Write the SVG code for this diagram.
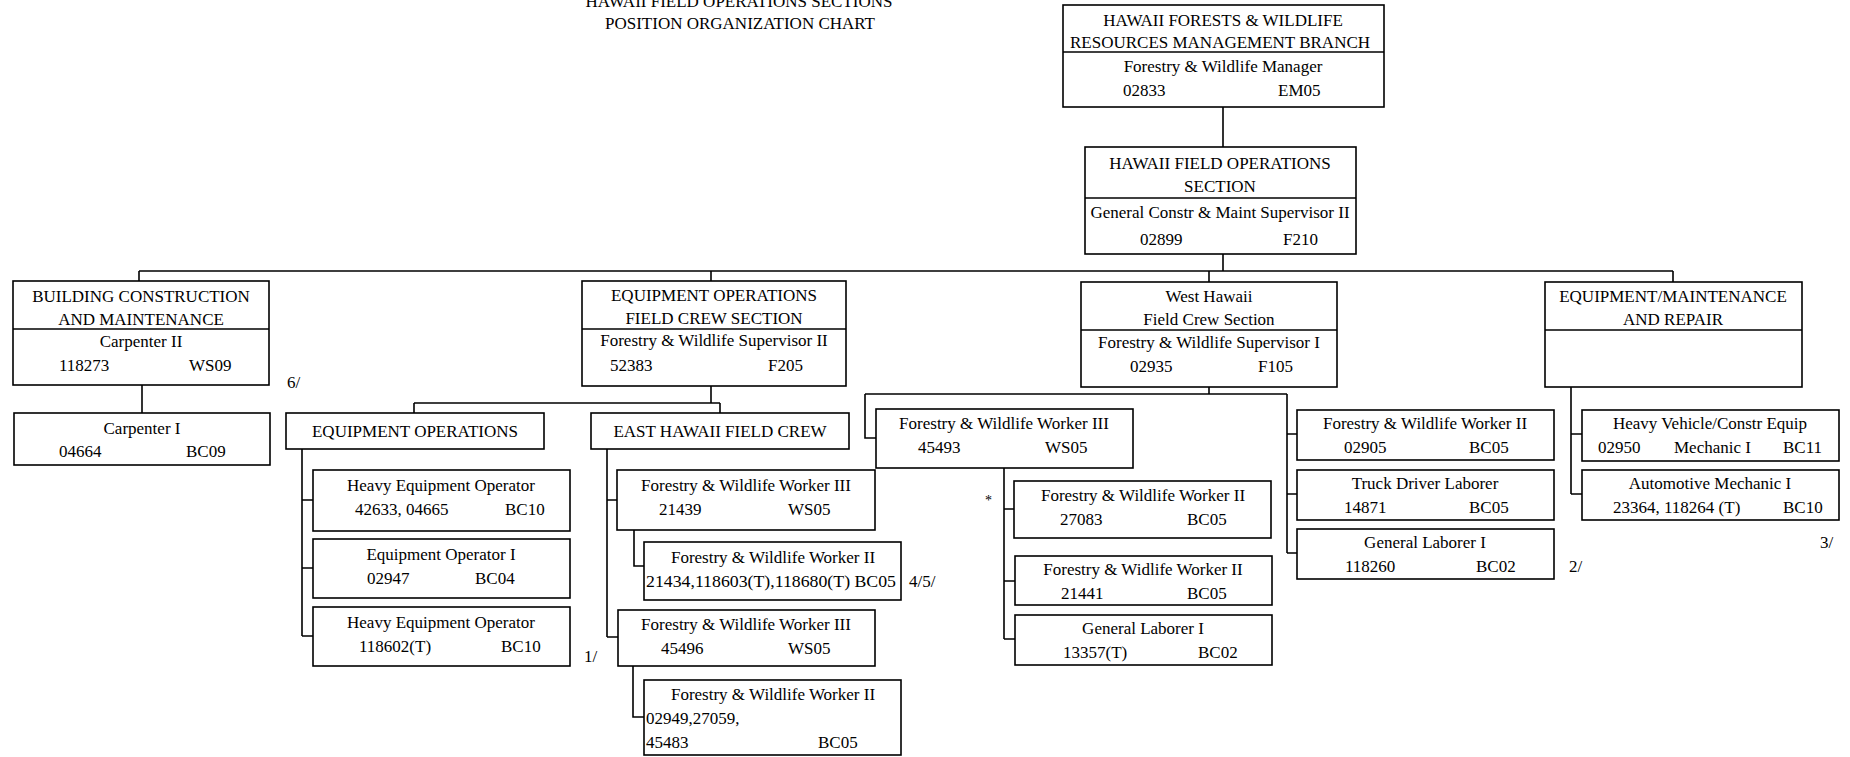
<svg xmlns="http://www.w3.org/2000/svg" width="1850" height="757" viewBox="0 0 1850 757">
<style>
.bx{fill:#fff;stroke:#000;stroke-width:1.6}
.ln{fill:none;stroke:#000;stroke-width:1.6}
text{font-family:"Liberation Serif","Times New Roman",serif;font-size:17px;fill:#000}
.c{text-anchor:middle}
</style>
<rect width="1850" height="757" fill="#fff"/>
<g id="title">
<text class="c" x="739" y="7">HAWAII FIELD OPERATIONS SECTIONS</text>
<text class="c" x="740" y="29">POSITION ORGANIZATION CHART</text>
</g>
<g id="connectors">
<path class="ln" d="M1223,107V147 M1223,254V271 M139,271H1673 M139,271V281 M711,271V281 M1209,271V282 M1673,271V282"/>
<path class="ln" d="M142,385V413"/>
<path class="ln" d="M711,386V403 M414,403H720 M414,403V413 M720,403V413"/>
<path class="ln" d="M302,449V636 M302,500H313 M302,568H313 M302,636H313"/>
<path class="ln" d="M607,449V637 M607,500H617 M607,637H618 M634,530V566H644 M633,666V717H644"/>
<path class="ln" d="M1209,387V394 M865,394H1287 M865,394V438H876 M1287,394V553 M1287,434H1297 M1287,494H1297 M1287,553H1297"/>
<path class="ln" d="M1004,468V639 M1004,509H1014 M1004,581H1015 M1004,639H1015"/>
<path class="ln" d="M1571,387V494 M1571,434H1582 M1571,494H1582"/>
</g>
<g id="n-branch">
<rect class="bx" x="1063" y="5" width="321" height="102"/>
<line class="ln" x1="1063" y1="52" x2="1384" y2="52"/>
<text class="c" x="1223" y="26">HAWAII FORESTS &amp; WILDLIFE</text>
<text class="c" x="1220" y="48">RESOURCES MANAGEMENT BRANCH</text>
<text class="c" x="1223" y="72">Forestry &amp; Wildlife Manager</text>
<text x="1123" y="96">02833</text><text x="1278" y="96">EM05</text>
</g>
<g id="n-section">
<rect class="bx" x="1085" y="147" width="271" height="107"/>
<line class="ln" x1="1085" y1="198" x2="1356" y2="198"/>
<text class="c" x="1220" y="169">HAWAII FIELD OPERATIONS</text>
<text class="c" x="1220" y="192">SECTION</text>
<text class="c" x="1220" y="218">General Constr &amp; Maint Supervisor II</text>
<text x="1140" y="245">02899</text><text x="1283" y="245">F210</text>
</g>
<g id="n-building">
<rect class="bx" x="13" y="281" width="256" height="104"/>
<line class="ln" x1="13" y1="329" x2="269" y2="329"/>
<text class="c" x="141" y="302">BUILDING CONSTRUCTION</text>
<text class="c" x="141" y="325">AND MAINTENANCE</text>
<text class="c" x="141" y="347">Carpenter II</text>
<text x="59" y="371">118273</text><text x="189" y="371">WS09</text>
</g>
<g id="n-carpenter1">
<rect class="bx" x="14" y="413" width="256" height="52"/>
<text class="c" x="142" y="434">Carpenter I</text>
<text x="59" y="457">04664</text><text x="186" y="457">BC09</text>
</g>
<text x="287" y="388">6/</text>
<g id="n-eqfield">
<rect class="bx" x="582" y="281" width="264" height="105"/>
<line class="ln" x1="582" y1="329" x2="846" y2="329"/>
<text class="c" x="714" y="301">EQUIPMENT OPERATIONS</text>
<text class="c" x="714" y="324">FIELD CREW SECTION</text>
<text class="c" x="714" y="346">Forestry &amp; Wildlife Supervisor II</text>
<text x="610" y="371">52383</text><text x="768" y="371">F205</text>
</g>
<g id="n-eqops">
<rect class="bx" x="286" y="413" width="258" height="36"/>
<text class="c" x="415" y="437">EQUIPMENT OPERATIONS</text>
</g>
<g id="n-easthawaii">
<rect class="bx" x="591" y="413" width="258" height="36"/>
<text class="c" x="720" y="437">EAST HAWAII FIELD CREW</text>
</g>
<g id="n-heo1">
<rect class="bx" x="313" y="470" width="257" height="61"/>
<text class="c" x="441" y="491">Heavy Equipment Operator</text>
<text x="355" y="515">42633, 04665</text><text x="505" y="515">BC10</text>
</g>
<g id="n-eo1">
<rect class="bx" x="313" y="539" width="257" height="59"/>
<text class="c" x="441" y="560">Equipment Operator I</text>
<text x="367" y="584">02947</text><text x="475" y="584">BC04</text>
</g>
<g id="n-heo2">
<rect class="bx" x="313" y="607" width="257" height="59"/>
<text class="c" x="441" y="628">Heavy Equipment Operator</text>
<text x="359" y="652">118602(T)</text><text x="501" y="652">BC10</text>
</g>
<text x="584" y="662">1/</text>
<g id="n-e21439">
<rect class="bx" x="617" y="470" width="258" height="60"/>
<text class="c" x="746" y="491">Forestry &amp; Wildlife Worker III</text>
<text x="659" y="515">21439</text><text x="788" y="515">WS05</text>
</g>
<g id="n-e21434">
<rect class="bx" x="644" y="542" width="257" height="58"/>
<text class="c" x="773" y="563">Forestry &amp; Wildlife Worker II</text>
<text x="646" y="587" textLength="250" lengthAdjust="spacingAndGlyphs">21434,118603(T),118680(T) BC05</text>
</g>
<text x="909" y="587">4/5/</text>
<g id="n-e45496">
<rect class="bx" x="618" y="610" width="257" height="56"/>
<text class="c" x="746" y="630">Forestry &amp; Wildlife Worker III</text>
<text x="661" y="654">45496</text><text x="788" y="654">WS05</text>
</g>
<g id="n-e02949">
<rect class="bx" x="644" y="680" width="257" height="75"/>
<text class="c" x="773" y="700">Forestry &amp; Wildlife Worker II</text>
<text x="646" y="724">02949,27059,</text>
<text x="646" y="748">45483</text><text x="818" y="748">BC05</text>
</g>
<g id="n-westhawaii">
<rect class="bx" x="1081" y="282" width="256" height="105"/>
<line class="ln" x1="1081" y1="330" x2="1337" y2="330"/>
<text class="c" x="1209" y="302">West Hawaii</text>
<text class="c" x="1209" y="325">Field Crew Section</text>
<text class="c" x="1209" y="348">Forestry &amp; Wildlife Supervisor I</text>
<text x="1130" y="372">02935</text><text x="1258" y="372">F105</text>
</g>
<g id="n-w45493">
<rect class="bx" x="876" y="409" width="257" height="59"/>
<text class="c" x="1004" y="429">Forestry &amp; Wildlife Worker III</text>
<text x="918" y="453">45493</text><text x="1045" y="453">WS05</text>
</g>
<text x="985" y="505" style="font-size:14px">*</text>
<g id="n-w27083">
<rect class="bx" x="1014" y="481" width="257" height="57"/>
<text class="c" x="1143" y="501">Forestry &amp; Wildlife Worker II</text>
<text x="1060" y="525">27083</text><text x="1187" y="525">BC05</text>
</g>
<g id="n-w21441">
<rect class="bx" x="1015" y="556" width="257" height="49"/>
<text class="c" x="1143" y="575">Forestry &amp; Widlife Worker II</text>
<text x="1061" y="599">21441</text><text x="1187" y="599">BC05</text>
</g>
<g id="n-w13357">
<rect class="bx" x="1015" y="615" width="257" height="50"/>
<text class="c" x="1143" y="634">General Laborer I</text>
<text x="1063" y="658">13357(T)</text><text x="1198" y="658">BC02</text>
</g>
<g id="n-w02905">
<rect class="bx" x="1297" y="410" width="257" height="50"/>
<text class="c" x="1425" y="429">Forestry &amp; Wildlife Worker II</text>
<text x="1344" y="453">02905</text><text x="1469" y="453">BC05</text>
</g>
<g id="n-w14871">
<rect class="bx" x="1297" y="470" width="257" height="50"/>
<text class="c" x="1425" y="489">Truck Driver Laborer</text>
<text x="1344" y="513">14871</text><text x="1469" y="513">BC05</text>
</g>
<g id="n-w118260">
<rect class="bx" x="1297" y="529" width="257" height="50"/>
<text class="c" x="1425" y="548">General Laborer I</text>
<text x="1345" y="572">118260</text><text x="1476" y="572">BC02</text>
</g>
<text x="1569" y="572">2/</text>
<g id="n-eqmaint">
<rect class="bx" x="1545" y="282" width="257" height="105"/>
<line class="ln" x1="1545" y1="330" x2="1802" y2="330"/>
<text class="c" x="1673" y="302">EQUIPMENT/MAINTENANCE</text>
<text class="c" x="1673" y="325">AND REPAIR</text>
</g>
<g id="n-heavyvehicle">
<rect class="bx" x="1582" y="410" width="257" height="51"/>
<text class="c" x="1710" y="429">Heavy Vehicle/Constr Equip</text>
<text x="1598" y="453">02950</text><text x="1674" y="453">Mechanic I</text><text x="1783" y="453">BC11</text>
</g>
<g id="n-automotive">
<rect class="bx" x="1582" y="470" width="257" height="50"/>
<text class="c" x="1710" y="489">Automotive Mechanic I</text>
<text x="1613" y="513">23364, 118264 (T)</text><text x="1783" y="513">BC10</text>
</g>
<text x="1820" y="548">3/</text>
</svg>
